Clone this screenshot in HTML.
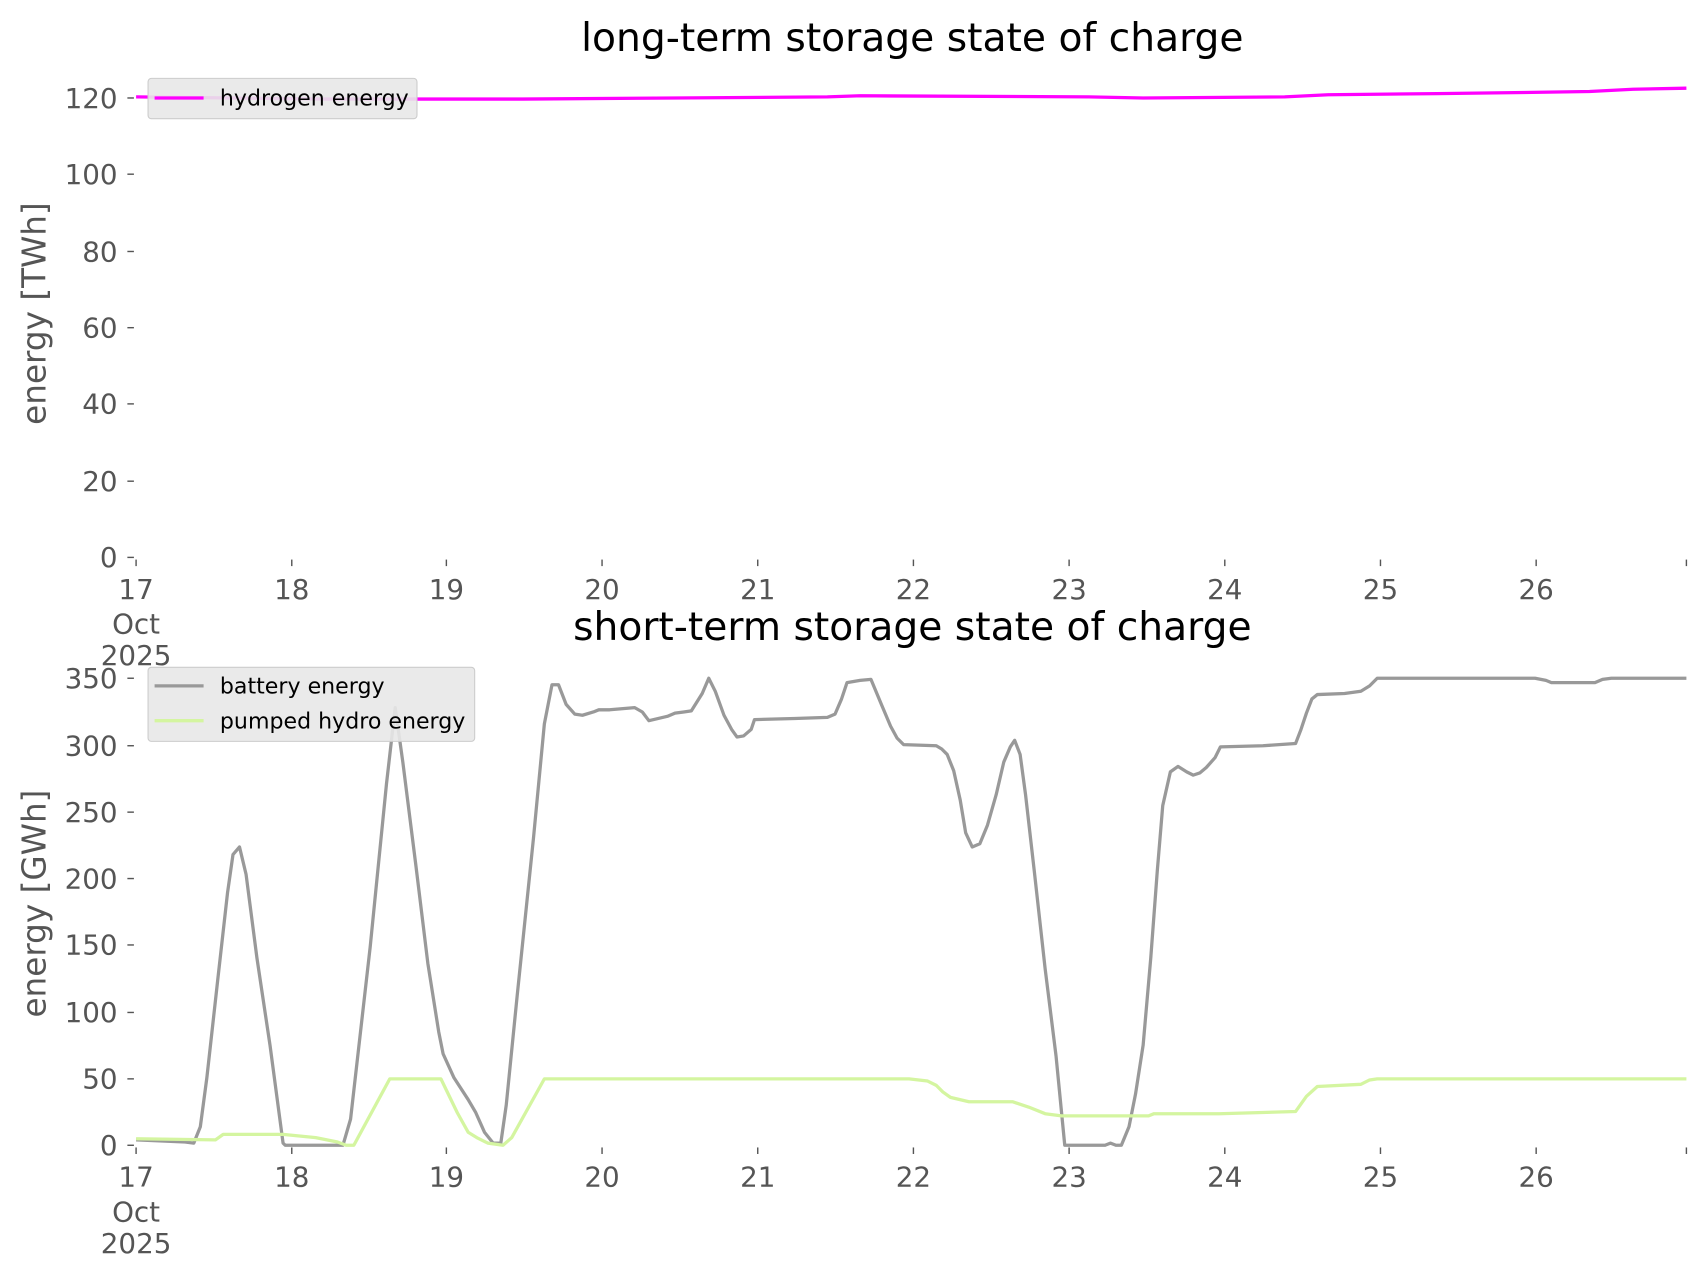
<!DOCTYPE html>
<html><head><meta charset="utf-8"><style>html,body{margin:0;padding:0;background:#fff;}svg{display:block}</style></head>
<body>
<svg xmlns="http://www.w3.org/2000/svg" width="1706" height="1277" viewBox="0 0 1567 1173" preserveAspectRatio="none" font-family="'DejaVu Sans','Liberation Sans',sans-serif">
<rect width="1570" height="1180" fill="#fff"/>
<!-- TOP -->
<text x="838" y="47" font-size="36" text-anchor="middle" fill="#000">long-term storage state of charge</text>
<text transform="translate(42,288) rotate(-90)" font-size="30" text-anchor="middle" fill="#555">energy [TWh]</text>
<g font-size="25.5" fill="#555" text-anchor="end" stroke="none">
<text x="108" y="521">0</text><text x="108" y="451">20</text><text x="108" y="380">40</text><text x="108" y="310">60</text><text x="108" y="240">80</text><text x="108" y="169">100</text><text x="108" y="99">120</text>
</g>
<g stroke="#555" stroke-width="1.3">
<line x1="117" x2="123" y1="512" y2="512"/><line x1="117" x2="123" y1="442" y2="442"/><line x1="117" x2="123" y1="371" y2="371"/><line x1="117" x2="123" y1="301" y2="301"/><line x1="117" x2="123" y1="231" y2="231"/><line x1="117" x2="123" y1="160" y2="160"/><line x1="117" x2="123" y1="90" y2="90"/>
<line x1="125" x2="125" y1="514" y2="520"/><line x1="268" x2="268" y1="514" y2="520"/><line x1="410" x2="410" y1="514" y2="520"/><line x1="553" x2="553" y1="514" y2="520"/><line x1="696" x2="696" y1="514" y2="520"/><line x1="839" x2="839" y1="514" y2="520"/><line x1="982" x2="982" y1="514" y2="520"/><line x1="1125" x2="1125" y1="514" y2="520"/><line x1="1268" x2="1268" y1="514" y2="520"/><line x1="1411" x2="1411" y1="514" y2="520"/><line x1="1549" x2="1549" y1="514" y2="520"/>
</g>
<g font-size="25.5" fill="#555" text-anchor="middle">
<text x="125" y="550">17</text><text x="125" y="582">Oct</text><text x="125" y="611">2025</text>
<text x="268" y="550">18</text><text x="410" y="550">19</text><text x="553" y="550">20</text><text x="696" y="550">21</text><text x="839" y="550">22</text><text x="982" y="550">23</text><text x="1125" y="550">24</text><text x="1268" y="550">25</text><text x="1411" y="550">26</text>
</g>
<polyline fill="none" stroke="#ff00ff" stroke-width="3" points="125,89 300,91 480,91 620,90 760,89 790,88 1000,89 1050,90 1180,89 1220,87 1320,86 1400,85 1460,84 1500,82 1549,81"/>
<rect x="136" y="72" width="247" height="37" rx="3" fill="#e8e8e8" fill-opacity="0.9" stroke="#ccc"/>
<line x1="142" x2="187" y1="90" y2="90" stroke="#ff00ff" stroke-width="3"/>
<text x="202" y="97" font-size="20.3" fill="#000">hydrogen energy</text>

<!-- BOTTOM -->
<text x="838" y="588" font-size="36" text-anchor="middle" fill="#000">short-term storage state of charge</text>
<text transform="translate(42,830) rotate(-90)" font-size="30" text-anchor="middle" fill="#555">energy [GWh]</text>
<g font-size="25.5" fill="#555" text-anchor="end">
<text x="108" y="1061">0</text><text x="108" y="1000">50</text><text x="108" y="939">100</text><text x="108" y="877">150</text><text x="108" y="816">200</text><text x="108" y="755">250</text><text x="108" y="694">300</text><text x="108" y="632">350</text>
</g>
<g stroke="#555" stroke-width="1.3">
<line x1="117" x2="123" y1="1052" y2="1052"/><line x1="117" x2="123" y1="991" y2="991"/><line x1="117" x2="123" y1="930" y2="930"/><line x1="117" x2="123" y1="868" y2="868"/><line x1="117" x2="123" y1="807" y2="807"/><line x1="117" x2="123" y1="746" y2="746"/><line x1="117" x2="123" y1="685" y2="685"/><line x1="117" x2="123" y1="623" y2="623"/>
<line x1="125" x2="125" y1="1054" y2="1060"/><line x1="268" x2="268" y1="1054" y2="1060"/><line x1="410" x2="410" y1="1054" y2="1060"/><line x1="553" x2="553" y1="1054" y2="1060"/><line x1="696" x2="696" y1="1054" y2="1060"/><line x1="839" x2="839" y1="1054" y2="1060"/><line x1="982" x2="982" y1="1054" y2="1060"/><line x1="1125" x2="1125" y1="1054" y2="1060"/><line x1="1268" x2="1268" y1="1054" y2="1060"/><line x1="1411" x2="1411" y1="1054" y2="1060"/><line x1="1549" x2="1549" y1="1054" y2="1060"/>
</g>
<g font-size="25.5" fill="#555" text-anchor="middle">
<text x="125" y="1090">17</text><text x="125" y="1122">Oct</text><text x="125" y="1151">2025</text>
<text x="268" y="1090">18</text><text x="410" y="1090">19</text><text x="553" y="1090">20</text><text x="696" y="1090">21</text><text x="839" y="1090">22</text><text x="982" y="1090">23</text><text x="1125" y="1090">24</text><text x="1268" y="1090">25</text><text x="1411" y="1090">26</text>
</g>
<polyline fill="none" stroke="#999" stroke-width="3" stroke-linejoin="round" points="125,1047 170,1049 178,1050 184,1035 190,990 200,900 209,820 214,785 220,778 226,803 236,880 248,960 260,1050 262,1052 315,1052 322,1028 340,870 355,720 363,650 370,700 382,795 393,885 403,948 407,968 417,990 430,1010 437,1022 445,1040 453,1050 460,1050 465,1015 475,915 490,770 500,665 507,629 513,629 520,647 528,656 535,657 545,654 550,652 560,652 583,650 590,654 596,662 613,658 620,655 628,654 635,653 645,637 651,623 657,635 665,657 672,670 677,677 683,676 690,670 693,661 730,660 760,659 767,656 773,642 778,627 790,625 800,624 810,648 818,667 824,678 830,684 860,685 865,688 870,693 876,708 882,735 887,765 893,778 900,775 907,758 915,730 922,700 928,686 932,680 937,693 942,730 950,800 960,890 970,970 978,1052 1015,1052 1020,1050 1025,1052 1030,1052 1037,1035 1043,1005 1050,960 1057,880 1063,800 1068,740 1075,709 1082,704 1090,709 1096,712 1102,710 1108,705 1116,696 1121,686 1160,685 1190,683 1195,670 1200,655 1205,642 1210,638 1235,637 1250,635 1258,630 1265,623 1410,623 1420,625 1425,627 1465,627 1472,624 1480,623 1549,623"/>
<polyline fill="none" stroke="#d4f5a0" stroke-width="3" stroke-linejoin="round" points="125,1046 198,1047 205,1042 260,1042 290,1045 310,1049 318,1052 325,1052 358,991 405,991 420,1022 430,1040 438,1045 448,1050 462,1052 470,1045 500,991 835,991 852,993 860,997 866,1003 873,1008 890,1012 930,1012 945,1017 960,1023 975,1025 1055,1025 1060,1023 1120,1023 1190,1021 1200,1007 1210,998 1250,996 1258,992 1265,991 1549,991"/>
<rect x="136" y="613" width="300" height="68" rx="3" fill="#e8e8e8" fill-opacity="0.9" stroke="#ccc"/>
<line x1="142" x2="187" y1="630" y2="630" stroke="#999" stroke-width="3"/>
<text x="202" y="637" font-size="20.3" fill="#000">battery energy</text>
<line x1="142" x2="187" y1="662" y2="662" stroke="#d4f5a0" stroke-width="3"/>
<text x="202" y="669" font-size="20.3" fill="#000">pumped hydro energy</text>
</svg>
</body></html>
